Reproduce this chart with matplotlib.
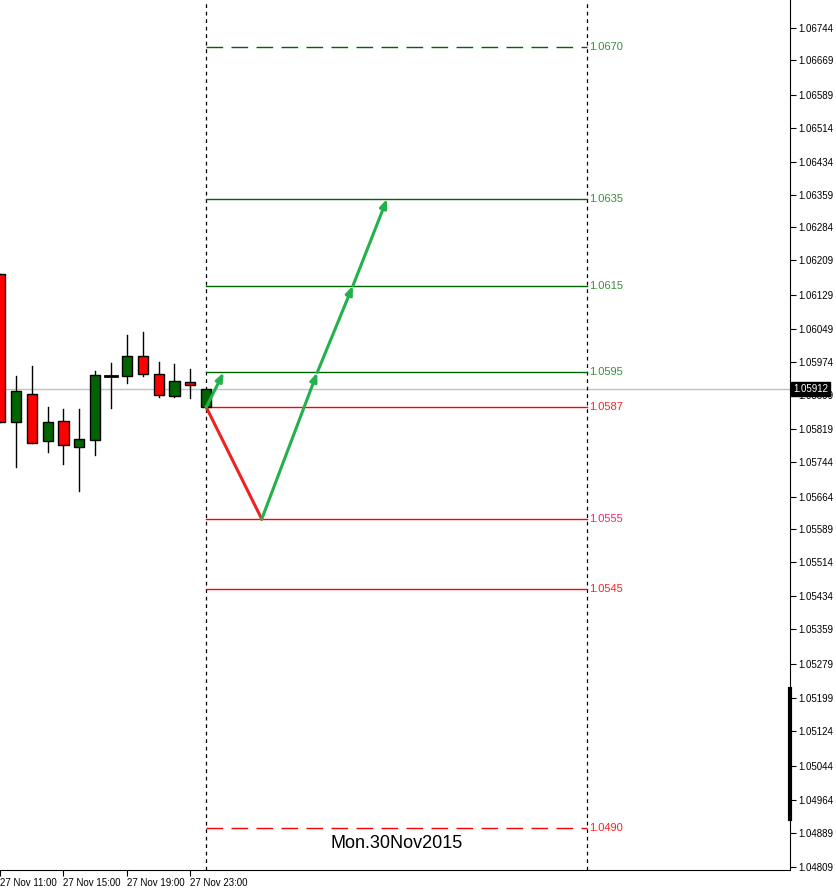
import matplotlib
matplotlib.use("Agg")
import matplotlib.pyplot as plt
from matplotlib.patches import Rectangle

plt.rcParams['font.family'] = ['Liberation Sans', 'DejaVu Sans']

# candle data (hourly, index -1 .. 12)
idx = list(range(-1, 13))
opens  = [1.06177, 1.05836, 1.05900, 1.05792, 1.05838, 1.05778, 1.05794, 1.05942, 1.05942, 1.05988, 1.05946, 1.05896, 1.05928, 1.05870]
highs  = [1.06177, 1.05942, 1.05965, 1.05870, 1.05866, 1.05866, 1.05953, 1.05972, 1.06036, 1.06043, 1.05974, 1.05969, 1.05958, 1.05912]
lows   = [1.05836, 1.05732, 1.05787, 1.05767, 1.05739, 1.05677, 1.05760, 1.05868, 1.05926, 1.05942, 1.05893, 1.05893, 1.05891, 1.05870]
closes = [1.05836, 1.05907, 1.05787, 1.05836, 1.05783, 1.05797, 1.05944, 1.05942, 1.05988, 1.05946, 1.05898, 1.05930, 1.05921, 1.05912]

time_ticks = [-1, 3, 7, 11]
time_labels = ["27 Nov 11:00", "27 Nov 15:00", "27 Nov 19:00", "27 Nov 23:00"]

level_labels = ["1.0670", "1.0635", "1.0615", "1.0595", "1.0587", "1.0555", "1.0545", "1.0490"]
level_prices = [1.0670, 1.0635, 1.0615, 1.0595, 1.0587, 1.05612, 1.0545, 1.0490]
level_colors = ["#006400", "#006400", "#006400", "#006400", "#ff0000", "#ff0000", "#ff0000", "#ff0000"]
level_styles = ["dashed", "solid", "solid", "solid", "solid", "solid", "solid", "dashed"]
label_colors = ["#3c8c3c", "#3c8c3c", "#3c8c3c", "#3c8c3c", "#ff2020", "#ff2060", "#ff2020", "#ff2020"]

red_path_x = [12, 15.5]
red_path_y = [1.0587, 1.05612]
green_path_x = [15.5, 19.0, 21.25, 23.4]
green_path_y = [1.05612, 1.0595, 1.0615, 1.0635]
small_arrow_x = [12, 13.1]
small_arrow_y = [1.0587, 1.0595]

current_price = 1.05912
price_ticks = [1.06744, 1.06669, 1.06589, 1.06514, 1.06434, 1.06359, 1.06284, 1.06209, 1.06129,
               1.06049, 1.05974, 1.05899, 1.05819, 1.05744, 1.05664, 1.05589, 1.05514, 1.05434,
               1.05359, 1.05279, 1.05199, 1.05124, 1.05044, 1.04964, 1.04889, 1.04809]

fig = plt.figure(figsize=(8.36, 8.88), dpi=100)
ax = fig.add_axes([0, 18/888, 790/836, 870/888])
ax.set_xlim(-0.55, 48.8)
ax.set_ylim(1.048032, 1.068083)

GREEN = "#006400"
for i, o, h, l, c in zip(idx, opens, highs, lows, closes):
    ax.plot([i, i], [l, h], color="black", lw=1, zorder=2)
    col = GREEN if c >= o else "#ff0000"
    if abs(c - o) < 1e-5:
        ax.plot([i - 0.4, i + 0.4], [o, o], color="black", lw=2, zorder=3)
    else:
        ax.add_patch(Rectangle((i - 0.32, min(o, c)), 0.64, abs(c - o), facecolor=col,
                               edgecolor="black", lw=1, zorder=3))

ax.axhline(current_price, color="#c0c0c0", lw=1, zorder=1)
for x in (12, 36):
    ax.axvline(x, color="black", lw=0.9, ls=(0, (3, 3)), zorder=1)

for lab, lv, lc, ls, tc in zip(level_labels, level_prices, level_colors, level_styles, label_colors):
    ax.plot([12, 36], [lv, lv], color=lc, lw=1, ls=(0, (12, 6)) if ls == "dashed" else "-", zorder=2)
    ax.text(36.15, lv, lab, color=tc, fontsize=8, va="center", ha="left")

ax.plot(red_path_x, red_path_y, color="#ee2222", lw=2.2, zorder=4)
def arrow(x0, y0, x1, y1):
    ax.annotate("", xy=(x1, y1), xytext=(x0, y0),
                arrowprops=dict(arrowstyle="-|>,head_length=0.5,head_width=0.2", color="#22b14c", lw=2.2,
                                shrinkA=0, shrinkB=0), zorder=4)
for k in range(len(green_path_x) - 1):
    arrow(green_path_x[k], green_path_y[k], green_path_x[k+1], green_path_y[k+1])
arrow(small_arrow_x[0], small_arrow_y[0], small_arrow_x[1], small_arrow_y[1])

ax.text(24, 1.04865, "Mon.30Nov2015", fontsize=13, ha="center", va="center", color="black",
        family=["Liberation Sans"])

ax.yaxis.tick_right()
ax.set_yticks(price_ticks)
ax.set_yticklabels([f"{t:.5f}" for t in price_ticks], fontsize=7)
ax.tick_params(axis="y", length=4, pad=2)
ax.set_xticks(time_ticks)
ax.set_xticklabels(time_labels, fontsize=7, ha="left")
ax.tick_params(axis="x", length=4, pad=2)
for s in ("top", "left"):
    ax.spines[s].set_visible(False)
ax.text(1.004, current_price, f"{current_price:.5f}", transform=ax.get_yaxis_transform(),
        fontsize=7, color="white", va="center", ha="left", zorder=10,
        bbox=dict(boxstyle="square,pad=0.2", fc="black", ec="black"))
ax.plot([1, 1], [1.0492, 1.0522], transform=ax.get_yaxis_transform(), color="black", lw=3, clip_on=False)

fig.savefig("out.png", dpi=100)
